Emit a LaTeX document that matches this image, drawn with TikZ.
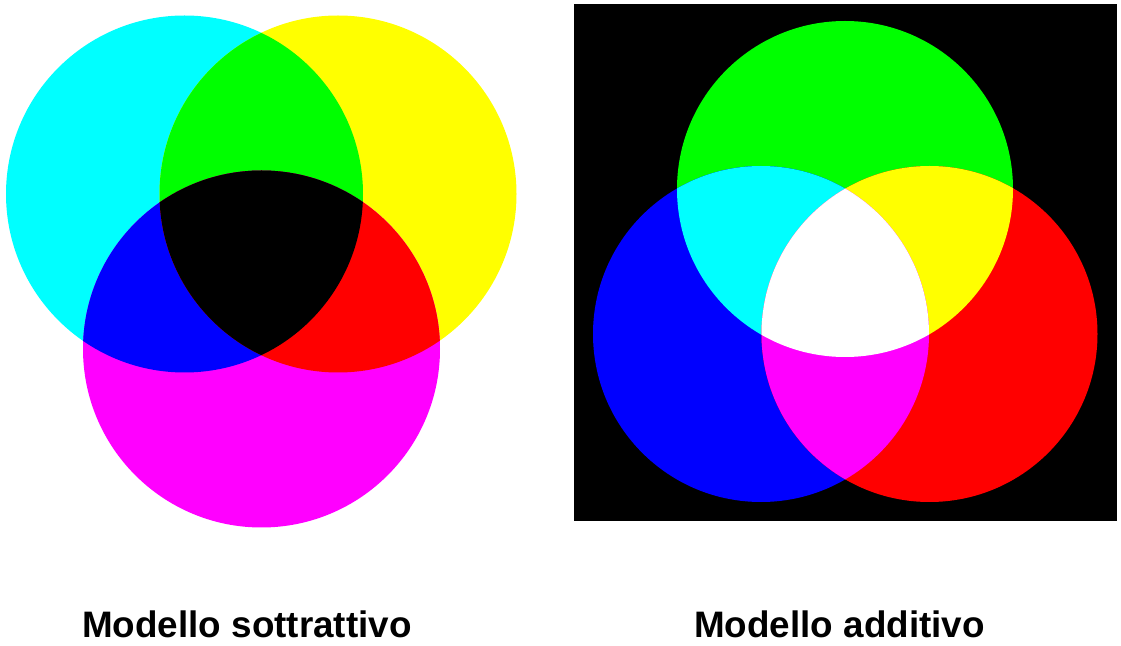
\documentclass[tikz,border=0pt]{standalone}
\usepackage{fontspec}
\setmainfont{Liberation Sans}
\definecolor{ciano}{RGB}{0,255,255}
\definecolor{giallo}{RGB}{255,255,0}
\definecolor{magenta}{RGB}{255,0,255}
\definecolor{rosso}{RGB}{255,0,0}
\definecolor{verde}{RGB}{0,255,0}
\definecolor{blu}{RGB}{0,0,255}
\begin{document}
\begin{tikzpicture}[x=0.025cm,y=0.025cm,
    etichetta/.style={font=\bfseries\fontsize{26.2}{30}\selectfont, anchor=base}]
\useasboundingbox (0,0) rectangle (1121,646);
% Modello sottrattivo : ciano, giallo, magenta
\def\rs{178.5}
\coordinate (C) at (184.5,452);
\coordinate (Y) at (338,452);
\coordinate (M) at (261.5,297);
\fill[ciano] (C) circle (\rs);
\fill[giallo] (Y) circle (\rs);
\fill[magenta] (M) circle (\rs);
\begin{scope} \clip (C) circle (\rs); \fill[verde] (Y) circle (\rs); \end{scope}
\begin{scope} \clip (C) circle (\rs); \fill[blu] (M) circle (\rs); \end{scope}
\begin{scope} \clip (Y) circle (\rs); \fill[rosso] (M) circle (\rs); \end{scope}
\begin{scope} \clip (C) circle (\rs); \clip (Y) circle (\rs); \fill[black] (M) circle (\rs); \end{scope}
% Modello additivo : verde, blu, rosso su fondo nero
\def\ra{168}
\fill[black] (574,125) rectangle (1117,642);
\coordinate (G) at (845,457);
\coordinate (B) at (761,312);
\coordinate (R) at (929.5,312);
\fill[verde] (G) circle (\ra);
\fill[blu] (B) circle (\ra);
\fill[rosso] (R) circle (\ra);
\begin{scope} \clip (G) circle (\ra); \fill[ciano] (B) circle (\ra); \end{scope}
\begin{scope} \clip (G) circle (\ra); \fill[giallo] (R) circle (\ra); \end{scope}
\begin{scope} \clip (B) circle (\ra); \fill[magenta] (R) circle (\ra); \end{scope}
\begin{scope} \clip (G) circle (\ra); \clip (B) circle (\ra); \fill[white] (R) circle (\ra); \end{scope}
% Etichette
\node[etichetta] (sottr) at (247,9) {Modello sottrattivo};
\node[etichetta] (addit) at (839.5,9) {Modello additivo};
\end{tikzpicture}
\end{document}
